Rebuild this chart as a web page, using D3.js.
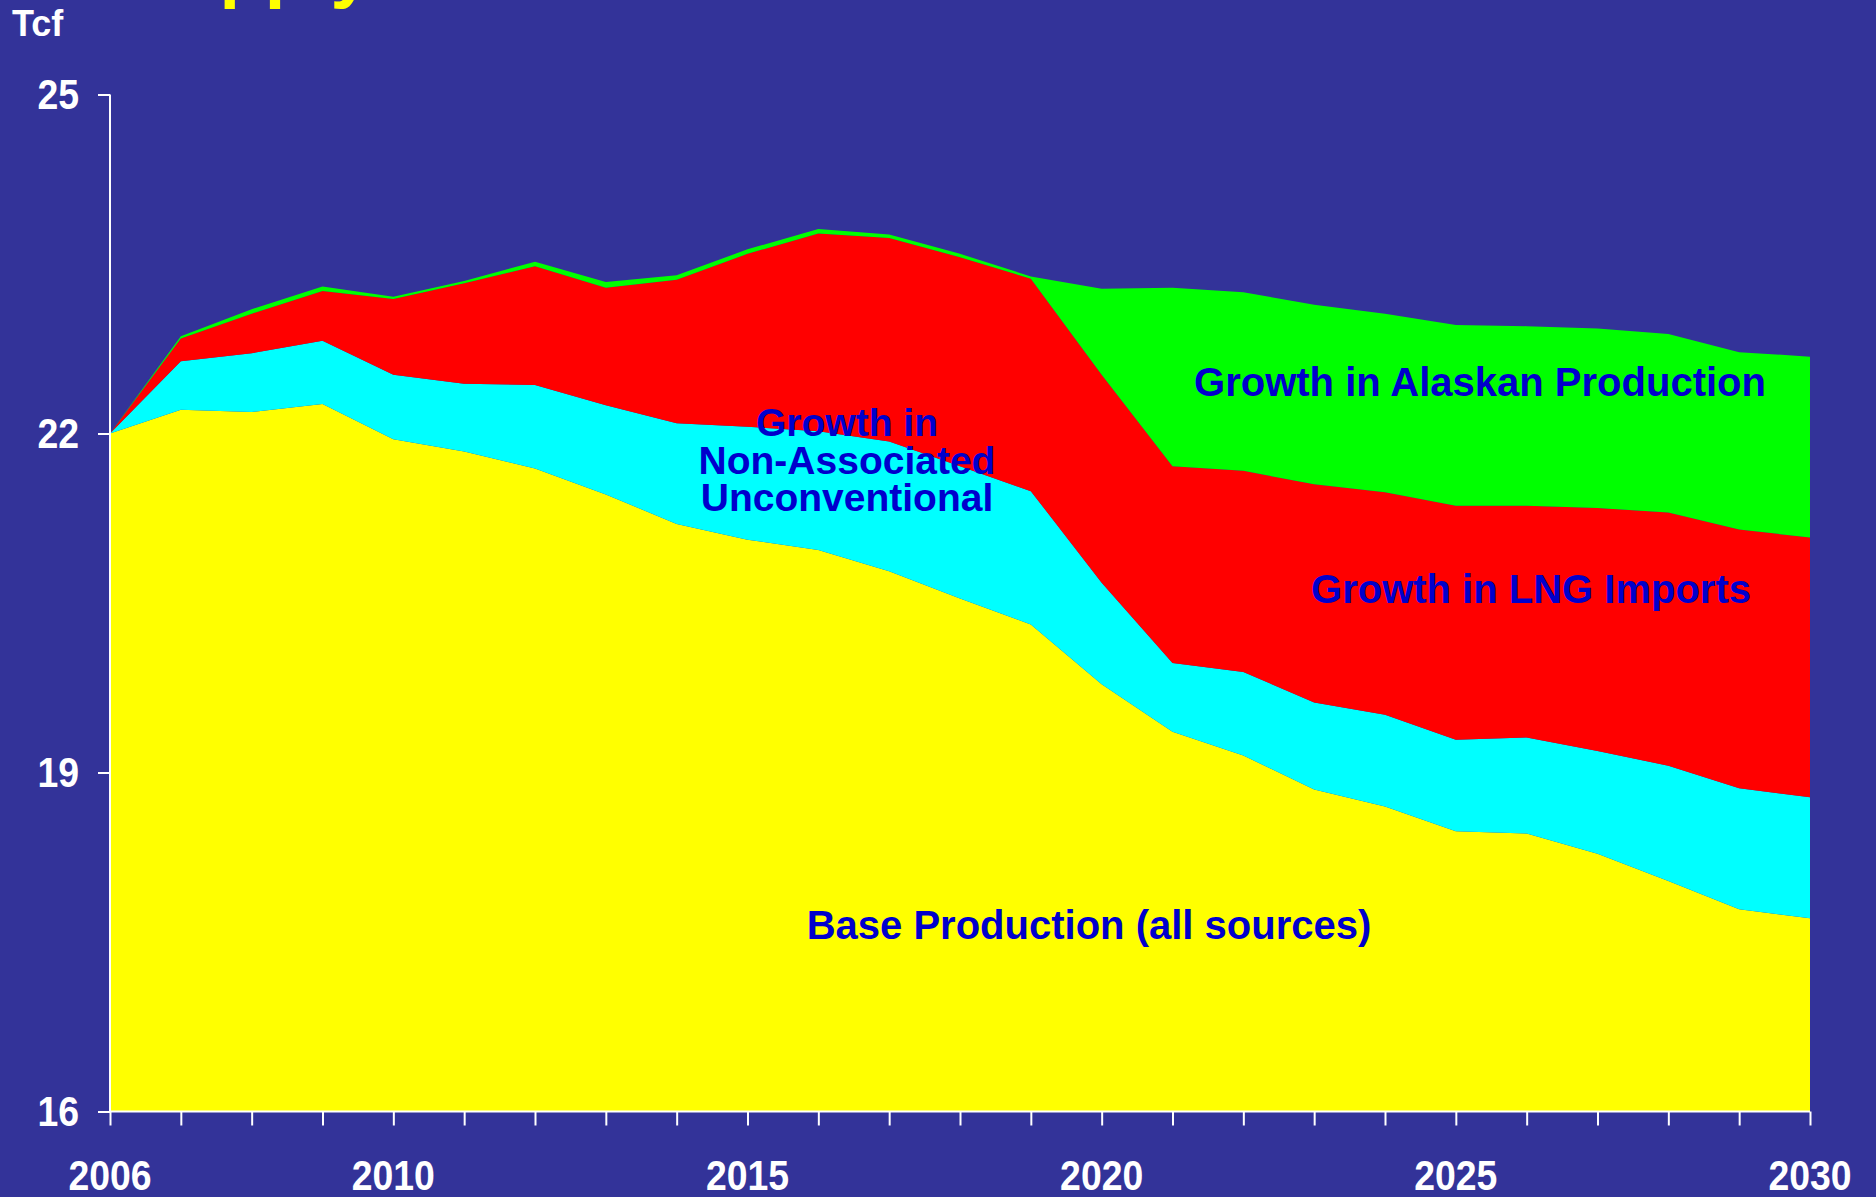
<!DOCTYPE html>
<html>
<head>
<meta charset="utf-8">
<script src="https://cdn.jsdelivr.net/npm/d3@7"></script>
<style>
  html, body { margin: 0; padding: 0; background: #333399; overflow: hidden; }
  svg { display: block; }
  text { font-family: "Liberation Sans", Arial, sans-serif; font-weight: bold; }
</style>
</head>
<body>
<svg id="chart" width="1876" height="1197"></svg>
<script>
// ---- Data (Tcf) ----
const years = [2006, 2007, 2008, 2009, 2010, 2011, 2012, 2013, 2014, 2015, 2016, 2017,
               2018, 2019, 2020, 2021, 2022, 2023, 2024, 2025, 2026, 2027, 2028, 2029, 2030];
const baseProduction = [22.00, 22.21, 22.19, 22.26, 21.95, 21.84, 21.69, 21.46, 21.20, 21.06, 20.97, 20.78,
                        20.54, 20.31, 19.78, 19.36, 19.15, 18.85, 18.70, 18.48, 18.46, 18.28, 18.04, 17.79, 17.71];
const unconventionalGrowth = [0.00, 0.43, 0.52, 0.56, 0.57, 0.60, 0.74, 0.79, 0.89, 1.00, 1.05, 1.15,
                              1.17, 1.18, 0.90, 0.61, 0.74, 0.77, 0.81, 0.81, 0.85, 0.91, 1.02, 1.07, 1.07];
const lngGrowth = [0.00, 0.20, 0.35, 0.44, 0.67, 0.89, 1.05, 1.04, 1.27, 1.53, 1.75, 1.80,
                   1.85, 1.88, 1.84, 1.74, 1.78, 1.93, 1.97, 2.07, 2.05, 2.15, 2.24, 2.29, 2.30];
const alaskaGrowth = [0.00, 0.02, 0.04, 0.04, 0.02, 0.02, 0.04, 0.05, 0.04, 0.04, 0.04, 0.03,
                      0.03, 0.02, 0.76, 1.58, 1.58, 1.59, 1.58, 1.60, 1.59, 1.59, 1.58, 1.57, 1.60];
const seriesKeys = ["base", "unconv", "lng", "alaska"];
const seriesColors = ["#FFFF00", "#00FFFF", "#FF0000", "#00FF00"];
const yTicks = [16, 19, 22, 25];
const xLabelYears = [2006, 2010, 2015, 2020, 2025, 2030];

const rows = years.map((y, i) => ({
  year: y, base: baseProduction[i], unconv: unconventionalGrowth[i],
  lng: lngGrowth[i], alaska: alaskaGrowth[i]
}));

const svg = d3.select("#chart");
const x = d3.scaleLinear().domain([2006, 2030]).range([110, 1810]);
const y = d3.scaleLinear().domain([16, 25]).range([1111.5, 94.5]);

// title (cut off at top of slide)
svg.append("text").attr("x", 125).attr("y", -6)
  .attr("font-size", 74).attr("fill", "#FFFF00").text("Supply");

// stacked areas
const stacked = d3.stack().keys(seriesKeys)(rows);
const area = d3.area()
  .x(d => x(d.data.year))
  .y0(d => y(d[0]))
  .y1(d => y(d[1]));
svg.append("g").selectAll("path").data(stacked).join("path")
  .attr("fill", (d, i) => seriesColors[i])
  .attr("d", d => area(d.map(p => {
    const q = [Math.max(p[0], 16), p[1]]; q.data = p.data; return q;
  })));

// axes
const white = "#FFFFFF";
const yAxis = svg.append("g").attr("transform", `translate(${x(2006)},0)`)
  .call(d3.axisLeft(y).tickValues(yTicks).tickSize(12).tickFormat(""));
const xAxis = svg.append("g").attr("transform", `translate(0,${y(16)})`)
  .call(d3.axisBottom(x).tickValues(years).tickSize(14).tickFormat(""));
[yAxis, xAxis].forEach(a => {
  a.select(".domain").attr("stroke", white).attr("stroke-width", 2);
  a.selectAll(".tick line").attr("stroke", white).attr("stroke-width", 2);
});
yAxis.select(".domain").attr("d", `M0,${y(25)}V${y(16)}`);
xAxis.select(".domain").attr("d", `M${x(2006)},0H${x(2030)}`);

function addText(tx, ty, str, size, anchor, sx, fill) {
  return svg.append("text")
    .attr("transform", `translate(${tx},${ty}) scale(${sx},1)`)
    .attr("font-size", size).attr("text-anchor", anchor)
    .attr("fill", fill).text(str);
}

// y tick labels
yTicks.forEach(v => addText(79, y(v) + 14, String(v), 42, "end", 0.89, white));
// x tick labels
xLabelYears.forEach(v => addText(x(v), 1190, String(v), 42, "middle", 0.89, white));
// unit
addText(12, 36, "Tcf", 36, "start", 1, white);

// series labels
const labelColor = "#0000CC";
addText(1480, 396, "Growth in Alaskan Production", 40, "middle", 1, labelColor);
addText(1531, 603, "Growth in LNG Imports", 40, "middle", 1, labelColor);
addText(1089, 939, "Base Production (all sources)", 40, "middle", 1, labelColor);
const multi = svg.append("text")
  .attr("font-size", 39).attr("text-anchor", "middle").attr("fill", labelColor);
["Growth in", "Non-Associated", "Unconventional"].forEach((s, i) =>
  multi.append("tspan").attr("x", 847).attr("y", 436 + i * 37.7).text(s));
</script>
</body>
</html>
